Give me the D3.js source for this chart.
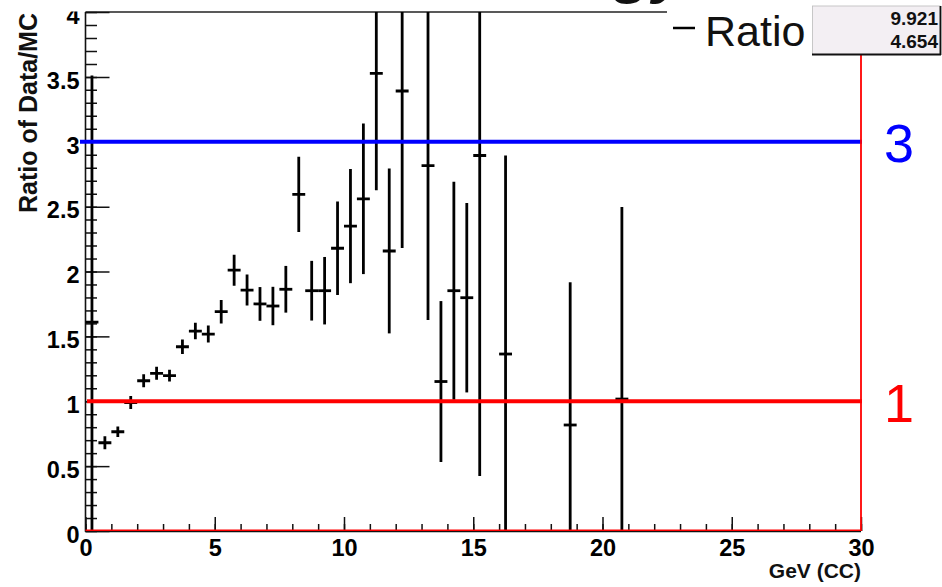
<!DOCTYPE html>
<html>
<head>
<meta charset="utf-8">
<script src="https://cdn.jsdelivr.net/npm/d3@7"></script>
<style>
  html, body { margin: 0; padding: 0; background: #fff; }
  svg { display: block; }
  text { font-family: "Liberation Sans", Arial, Helvetica, sans-serif; }
</style>
</head>
<body>
<svg id="chart" width="942" height="587"></svg>
<script>
// Bin centres (GeV), 0.5 GeV wide bins
const binCenters = [0.25, 0.75, 1.25, 1.75, 2.25, 2.75, 3.25, 3.75, 4.25, 4.75,
  5.25, 5.75, 6.25, 6.75, 7.25, 7.75, 8.25, 8.75, 9.25, 9.75,
  10.25, 10.75, 11.25, 11.75, 12.25, 13.25, 13.75, 14.25, 14.75, 15.25,
  16.25, 18.75, 20.75];
// Data/MC ratio per bin
const ratioValues = [1.61, 0.68, 0.765, 0.99, 1.158, 1.215, 1.197, 1.42, 1.541, 1.518,
  1.69, 2.01, 1.857, 1.75, 1.734, 1.863, 2.595, 1.852, 1.852, 2.179,
  2.35, 2.56, 3.527, 2.158, 3.391, 2.816, 1.152, 1.852, 1.798, 2.894,
  1.364, 0.817, 1.017];
// Statistical error on the ratio
const ratioErrors = [1.9, 0.05, 0.04, 0.05, 0.05, 0.05, 0.045, 0.056, 0.064, 0.066,
  0.09, 0.12, 0.12, 0.13, 0.148, 0.18, 0.29, 0.23, 0.26, 0.36,
  0.44, 0.58, 0.9, 0.635, 1.21, 1.19, 0.62, 0.84, 0.73, 2.47,
  1.53, 1.1, 1.48];
const binHalfWidth = 0.25;

const xMajorTicks = [0, 5, 10, 15, 20, 25, 30];
const yMajorTicks = [0, 0.5, 1, 1.5, 2, 2.5, 3, 3.5, 4];
const refLines = [3, 1];          // reference levels drawn across the frame
const statsValues = ["9.921", "4.654"];

const svg = d3.select("#chart");
const L = 85.5, R = 861, T = 12, B = 531;

const x = d3.scaleLinear().domain([0, 30]).range([L, R]);
const y = d3.scaleLinear().domain([0, 4]).range([B, T]);

// Clip for the plotting frame and for the pad (axis labels cut at the pad top)
const defs = svg.append("defs");
defs.append("clipPath").attr("id", "frame")
  .append("rect").attr("x", L).attr("y", T).attr("width", R - L).attr("height", B - T);
defs.append("clipPath").attr("id", "pad")
  .append("rect").attr("x", -200).attr("y", T - 0.5).attr("width", 1200).attr("height", 600);

// Title fragment above the pad
svg.append("text")
  .attr("x", 688).attr("y", -9)
  .attr("text-anchor", "end")
  .attr("font-size", 64)
  .attr("font-weight", "bold")
  .attr("font-style", "italic")
  .attr("fill", "#111")
  .text("Energy");

// Frame lines
svg.append("line").attr("x1", L).attr("x2", 667).attr("y1", T).attr("y2", T)
  .attr("stroke", "#222").attr("stroke-width", 1.3);
svg.append("line").attr("x1", L).attr("x2", L).attr("y1", T).attr("y2", B + 0.8)
  .attr("stroke", "#111").attr("stroke-width", 1.6);
svg.append("line").attr("x1", L).attr("x2", R).attr("y1", B + 0.6).attr("y2", B + 0.6)
  .attr("stroke", "#111").attr("stroke-width", 1.4);

const tickFont = (g, size) => g.selectAll("text")
  .attr("font-size", size).attr("font-weight", "bold").attr("fill", "#000")
  .attr("font-family", "'Liberation Sans', Arial, sans-serif");

// Y axis: ticks point into the frame
const yAxisG = svg.append("g").attr("transform", `translate(${L},0)`).attr("clip-path", "url(#pad)");
yAxisG.call(d3.axisLeft(y).tickValues(d3.range(0, 4.001, 0.1)).tickSize(-11.5).tickFormat(""));
yAxisG.append("g").call(d3.axisLeft(y).tickValues(yMajorTicks).tickSize(-24).tickPadding(6)
  .tickFormat(d => d3.format("")(d)));
yAxisG.selectAll(".domain").remove();
yAxisG.selectAll("line").attr("stroke", "#111").attr("stroke-width", 1.5);
tickFont(yAxisG, 23.5);
yAxisG.selectAll("text").attr("dy", "0.48em");

// X axis: ticks point up into the frame
const xAxisG = svg.append("g").attr("transform", `translate(0,${B})`);
xAxisG.call(d3.axisBottom(x).tickValues(d3.range(0, 31, 1)).tickSize(-7).tickFormat(""));
xAxisG.append("g").call(d3.axisBottom(x).tickValues(xMajorTicks).tickSize(-14).tickPadding(8)
  .tickFormat(d => d3.format("")(d)));
xAxisG.selectAll(".domain").remove();
xAxisG.selectAll("line").attr("stroke", "#111").attr("stroke-width", 1.5);
tickFont(xAxisG, 23.5);

// Axis titles
svg.append("text")
  .attr("transform", `translate(37,${T + 1}) rotate(-90)`)
  .attr("text-anchor", "end")
  .attr("font-size", 25)
  .attr("font-weight", "bold")
  .attr("fill", "#111")
  .text("Ratio of Data/MC");
svg.append("text")
  .attr("x", R).attr("y", 578)
  .attr("text-anchor", "end")
  .attr("font-size", 21)
  .attr("font-weight", "bold")
  .attr("fill", "#111")
  .text("GeV (CC)");

// Data points with error bars
const points = binCenters.map((c, i) => ({ c, v: ratioValues[i], e: ratioErrors[i] }));
const pg = svg.append("g").attr("clip-path", "url(#frame)");
const pt = pg.selectAll("g.pt").data(points).join("g").attr("class", "pt");
pt.append("line")
  .attr("x1", d => x(d.c)).attr("x2", d => x(d.c))
  .attr("y1", d => y(Math.max(0, d.v - d.e))).attr("y2", d => y(d.v + d.e))
  .attr("stroke", "#000").attr("stroke-width", 2.8);
pt.append("line")
  .attr("x1", d => x(d.c - binHalfWidth)).attr("x2", d => x(d.c + binHalfWidth))
  .attr("y1", d => y(d.v)).attr("y2", d => y(d.v))
  .attr("stroke", "#000").attr("stroke-width", 2.8);

// Reference lines
svg.append("line").attr("x1", 80).attr("x2", R + 1)
  .attr("y1", y(refLines[0])).attr("y2", y(refLines[0]))
  .attr("stroke", "#0000ff").attr("stroke-width", 4.2);
svg.append("line").attr("x1", L + 1.5).attr("x2", R + 1)
  .attr("y1", y(refLines[1])).attr("y2", y(refLines[1]))
  .attr("stroke", "#ff0000").attr("stroke-width", 4);
// red outline along the bottom and right side
svg.append("line").attr("x1", L).attr("x2", R).attr("y1", B - 0.8).attr("y2", B - 0.8)
  .attr("stroke", "#ff0000").attr("stroke-width", 1.6);
svg.append("line").attr("x1", R).attr("x2", R).attr("y1", 55).attr("y2", B)
  .attr("stroke", "#ff0000").attr("stroke-width", 1.8);

// Level labels on the right
svg.append("text").attr("x", 899).attr("y", y(refLines[0]) + 20)
  .attr("text-anchor", "middle").attr("font-size", 54)
  .attr("font-family", "'Liberation Serif', 'Times New Roman', serif")
  .attr("fill", "#0000ff").text(String(refLines[0]));
svg.append("text").attr("x", 899).attr("y", y(refLines[1]) + 21)
  .attr("text-anchor", "middle").attr("font-size", 54)
  .attr("font-family", "'Liberation Serif', 'Times New Roman', serif")
  .attr("fill", "#ff0000").text(String(refLines[1]));

// Legend entry
svg.append("line").attr("x1", 673).attr("x2", 695).attr("y1", 28).attr("y2", 28)
  .attr("stroke", "#000").attr("stroke-width", 2.5);
svg.append("text").attr("x", 705).attr("y", 46)
  .attr("font-size", 43).attr("fill", "#111").text("Ratio");

// Statistics box
svg.append("rect").attr("x", 812.5).attr("y", 6).attr("width", 127.5).attr("height", 48.5)
  .attr("fill", "#f3eff3").attr("stroke", "#bbb").attr("stroke-width", 0.8);
svg.append("line").attr("x1", 812).attr("x2", 941).attr("y1", 54.5).attr("y2", 54.5)
  .attr("stroke", "#111").attr("stroke-width", 1.8);
svg.append("line").attr("x1", 940.5).attr("x2", 940.5).attr("y1", 6).attr("y2", 55)
  .attr("stroke", "#111").attr("stroke-width", 1.8);
svg.selectAll("text.stat").data(statsValues).join("text").attr("class", "stat")
  .attr("x", 938).attr("y", (d, i) => 25 + i * 23)
  .attr("text-anchor", "end").attr("font-size", 19).attr("font-weight", "bold")
  .attr("fill", "#111").text(d => d);
</script>
</body>
</html>
